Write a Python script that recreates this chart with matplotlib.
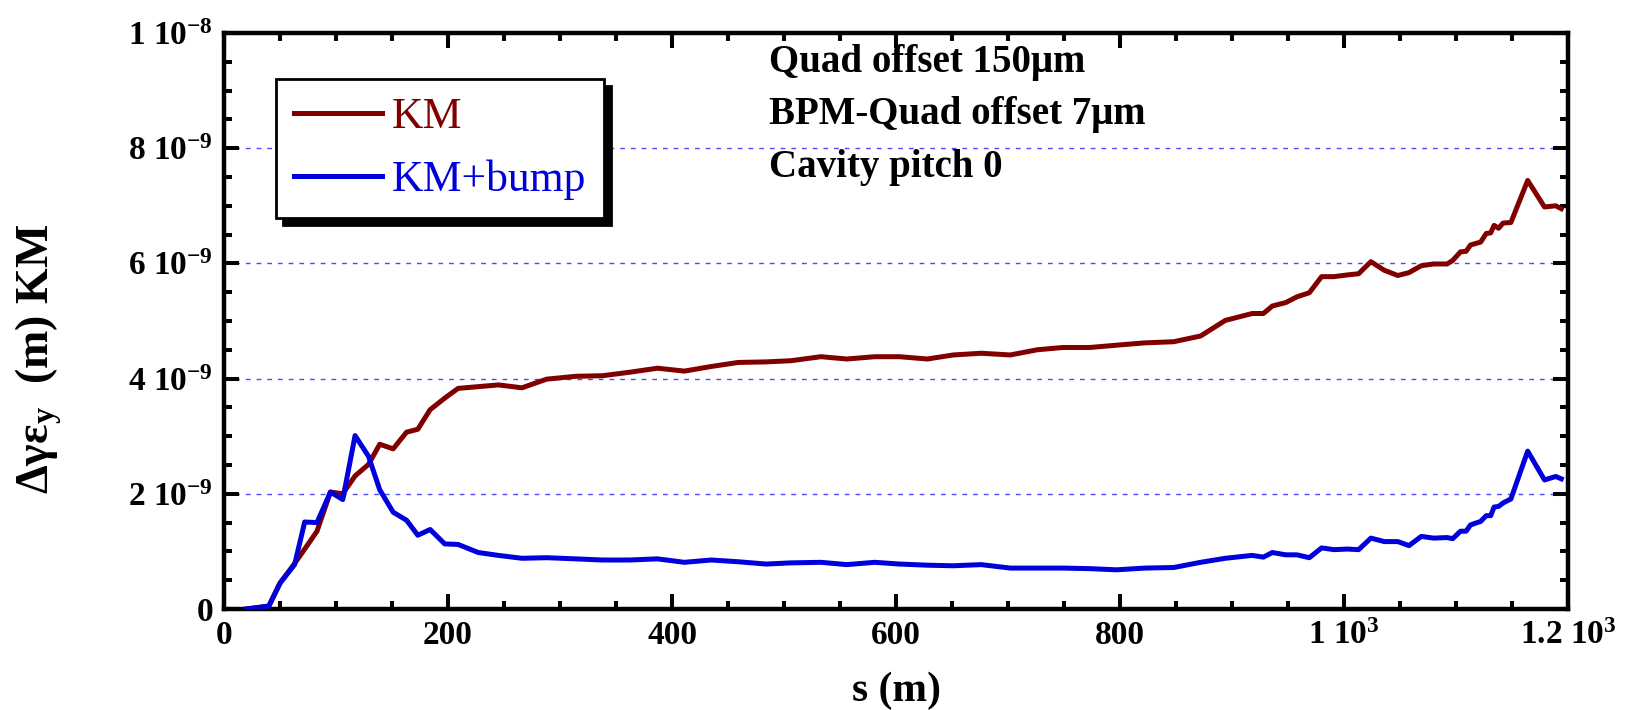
import matplotlib
matplotlib.use("Agg")
import matplotlib.pyplot as plt
from matplotlib.ticker import MultipleLocator, FuncFormatter

plt.rcParams['font.family'] = ['Liberation Serif', 'DejaVu Serif']
plt.rcParams['font.weight'] = 'bold'
plt.rcParams['mathtext.fontset'] = 'custom'
plt.rcParams['mathtext.rm'] = 'Liberation Serif:bold'
plt.rcParams['mathtext.bf'] = 'Liberation Serif:bold'
plt.rcParams['mathtext.it'] = 'Liberation Serif:bold'
plt.rcParams['mathtext.default'] = 'bf'

# dados (s em metros, emitancia em 1e-9 m)
s = [20, 40, 50, 63, 72, 83, 95, 106, 117, 129, 139, 151, 163, 173, 184, 197,
     209, 227, 245, 266, 288, 314, 338, 362, 387, 411, 435, 459, 484, 506, 533,
     556, 581, 603, 628, 651, 676, 702, 726, 749, 773, 797, 822, 848, 872, 894,
     918, 928, 936, 948, 958, 969, 980, 991, 1003, 1013, 1024, 1036, 1048, 1058,
     1069, 1080, 1092, 1097, 1104, 1109, 1113, 1122, 1127, 1131, 1134, 1138,
     1142, 1149, 1164, 1179, 1189, 1194]

km = [0.0, 0.05, 0.45, 0.79, 1.04, 1.35, 2.03, 2.0, 2.31, 2.51, 2.86, 2.78,
      3.07, 3.12, 3.46, 3.66, 3.83, 3.86, 3.89, 3.84, 3.99, 4.04, 4.05, 4.11,
      4.18, 4.13, 4.21, 4.28, 4.29, 4.31, 4.38, 4.34, 4.38, 4.38, 4.34, 4.41,
      4.44, 4.41, 4.50, 4.54, 4.54, 4.58, 4.62, 4.64, 4.74, 5.01, 5.13, 5.13,
      5.26, 5.32, 5.42, 5.49, 5.77, 5.77, 5.80, 5.82, 6.03, 5.88, 5.79, 5.84,
      5.96, 5.99, 5.99, 6.05, 6.20, 6.21, 6.32, 6.37, 6.52, 6.53, 6.66, 6.61,
      6.70, 6.71, 7.44, 6.98, 7.00, 6.95]

km_bump = [0.0, 0.05, 0.45, 0.77, 1.51, 1.50, 2.03, 1.90, 3.01, 2.65, 2.07,
           1.68, 1.54, 1.28, 1.38, 1.13, 1.12, 0.98, 0.93, 0.88, 0.89, 0.87,
           0.85, 0.85, 0.87, 0.81, 0.85, 0.82, 0.78, 0.80, 0.81, 0.77, 0.81,
           0.78, 0.76, 0.75, 0.77, 0.71, 0.71, 0.71, 0.70, 0.68, 0.71, 0.72,
           0.81, 0.88, 0.93, 0.90, 0.98, 0.94, 0.94, 0.89, 1.06, 1.03, 1.04,
           1.03, 1.23, 1.17, 1.17, 1.10, 1.26, 1.23, 1.24, 1.22, 1.35, 1.35,
           1.46, 1.52, 1.62, 1.62, 1.77, 1.78, 1.84, 1.91, 2.74, 2.24, 2.30, 2.26]

legendas = ["KM", "KM+bump"]
cores = ['#800000', '#0000dd']
textos = ["Quad offset 150\u03bcm", "BPM-Quad offset 7\u03bcm", "Cavity pitch 0"]

fig = plt.figure(figsize=(16.33, 7.1), dpi=100)
ax = fig.add_axes([0.1372, 0.1423, 0.9602 - 0.1372, 0.9535 - 0.1423])

y1 = [v * 1e-9 for v in km]
y2 = [v * 1e-9 for v in km_bump]
ax.plot(s, y1, color=cores[0], lw=3.6, label=legendas[0], zorder=3)
ax.plot(s, y2, color=cores[1], lw=3.6, label=legendas[1], zorder=3)

# linhas tracejadas horizontais
for g in [2e-9, 4e-9, 6e-9, 8e-9]:
    ax.axhline(g, color='#4a4aff', lw=1, dashes=(3.4, 4.3), zorder=1)

ax.set_xlim(0, 1200)
ax.set_ylim(0, 1e-8)
ax.xaxis.set_major_locator(MultipleLocator(200))
ax.xaxis.set_minor_locator(MultipleLocator(50))
ax.yaxis.set_major_locator(MultipleLocator(2e-9))
ax.yaxis.set_minor_locator(MultipleLocator(5e-10))


def fmt_x(v, pos):
    if v == 1000:
        return "1 10$^{3}$"
    if v == 1200:
        return "1.2 10$^{3}$"
    return "%d" % v


def fmt_y(v, pos):
    if abs(v) < 1e-12:
        return "0"
    if abs(v - 1e-8) < 1e-12:
        return "1 10$^{-8}$"
    return "%d 10$^{-9}$" % round(v * 1e9)


ax.xaxis.set_major_formatter(FuncFormatter(fmt_x))
ax.yaxis.set_major_formatter(FuncFormatter(fmt_y))

ax.tick_params(which='both', direction='in', top=True, right=True,
               labelsize=24, width=2.9)
ax.tick_params(which='major', length=11, pad=8)
ax.tick_params(which='minor', length=5.5)
for sp in ax.spines.values():
    sp.set_linewidth(3.2)

ax.set_xlabel("s (m)", fontsize=30, fontweight='bold', va='center')
ax.xaxis.set_label_coords(0.5, -0.142)
ax.set_ylabel("\u0394\u03b3\u03b5$_{y}$  (m) KM", fontsize=33,
              fontweight='bold', va='center')
ax.yaxis.set_label_coords(-0.138, 0.434)

leg = ax.legend(loc='upper left', bbox_to_anchor=(0.0387, 0.920),
                borderaxespad=0, prop={'weight': 'normal', 'size': 31.5},
                handlelength=2.0, handletextpad=0.22, borderpad=0.42,
                labelspacing=0.5, fancybox=False, framealpha=1,
                edgecolor='black',
                shadow={'ox': 5, 'oy': -5, 'facecolor': 'black',
                        'edgecolor': 'black', 'alpha': 1})
leg.get_frame().set_linewidth(2)
for t, c in zip(leg.get_texts(), cores):
    t.set_color(c)

ys = [0.948, 0.858, 0.767]
for t, yy in zip(textos, ys):
    ax.text(0.4055, yy, t, transform=ax.transAxes, fontsize=28,
            fontweight='bold', va='center', ha='left')

fig.savefig("out.png", dpi=100)
